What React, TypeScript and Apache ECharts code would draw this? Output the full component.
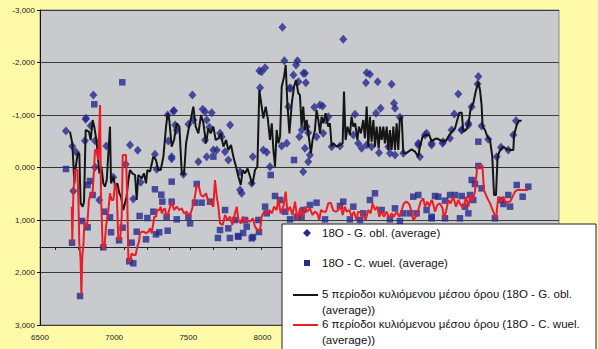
import React, { useEffect, useRef } from "react";
import * as echarts from "echarts";

// 18O - G. obl. (average)  [age, value]
const gObl: [number, number][] = [
  [6675,-695],[6860,-1381],[6808,-918],[6842,-797],[6803,-511],[6718,-403],[6741,-302],[6871,-511],[6947,-409],[7107,-429],
  [7159,-327],[6871,-4],[6900,619],[6994,187],[7078,-61],[7129,600],[6725,448],[7179,282],[7275,-251],[7287,35],
  [7361,-1000],[7399,-1076],[7365,-505],[7388,-168],[6810,-937],
  [8135,-2670],[8148,-2035],[7979,-1845],[7995,-1826],[8018,-1902],[8236,-2035],[8227,-1953],[8209,-1762],[8243,-1635],[8276,-1794],
  [8191,-1508],[7984,-1521],[7528,-1381],[7404,-1083],[7597,-1108],[7613,-1064],[7658,-1045],[7534,-905],[7501,-822],[7624,-905],
  [7782,-810],[7642,-765],[7714,-651],[7725,-588],[7613,-524],[7411,-810],[7422,-714],[8006,-334],[8029,-289],[7669,-334],
  [7692,-334],[7748,-302],[7770,-143],[7388,-207],[7568,-111],[7624,-207],[7935,-207],[8051,-16],[8130,-410],[8164,-461],
  [8249,-588],[8265,-715],[8175,-1159],[8182,-1508],[7849,79],[7467,130],[7928,302],[7849,429],[7860,492],
  [8545,-2442],[8703,-1807],[8725,-1775],[8698,-1616],[8777,-1635],[8871,-1585],[8287,-1794],[8293,-1616],[8350,-1146],[8388,-1191],
  [8406,-1172],[8444,-968],[8624,-1013],[8797,-1127],[8887,-1223],[8894,-1127],[8766,-1032],[8927,-956],[8298,-778],[8309,-664],
  [8365,-588],[8410,-651],[8428,-905],[8287,-365],[8320,-238],[8309,-111],[8275,79],[8467,-397],[8523,-410],[8613,-619],
  [8646,-461],[8669,-365],[8703,-429],[8736,-397],[8786,-283],[8826,-619],[8860,-270],[8894,-238],[8849,-397],[9107,-651],
  [9051,-429],[9062,-207],
  [9456,-1731],[9451,-1591],[9321,-1400],[9294,-1019],[9411,-1159],[9389,-810],[9344,-715],[9276,-715],[9265,-556],[9215,-461],
  [9141,-429],[9478,-791],[9523,-537],[9580,-206],[9609,-384],[9658,-334],[9692,-619],[9710,-892],[9096,-619],[9141,-461],
  [9219,-492],[9343,-714],[9388,-842],[8950,-270],[9051,-461],
];

// 18O - C. wuel. (average)  [age, value]
const cWuel: [number, number][] = [
  [7055,-1623],[6866,-1204],[6675,29],[6837,257],[6821,333],[6855,524],[6716,1432],[6783,1019],[6821,1139],[6770,2448],
  [6934,842],[6972,949],[6979,1234],[6927,1520],[7033,1387],[7057,1147],[7102,1787],[7129,1825],[7118,1432],[7152,1223],
  [7172,924],[7224,962],[7215,1368],[7264,842],[7275,415],[7318,518],[7325,651],[7282,1273],[7304,1234],[7361,1204],
  [7388,270],[7388,651],[7354,937],
  [8213,-143],[8056,143],[7669,-207],[7557,314],[7590,670],[7647,651],[7748,810],[7545,670],[7501,937],[7422,988],
  [7512,1064],[7714,1191],[7770,1159],[7838,1318],[7928,1349],[7894,1127],[8029,873],[8085,543],[8119,619],[8153,841],
  [8231,937],[8186,988],[8018,746],[7973,1000],[7815,1000],[7883,1000],[8276,810],
  [7700,1343],[7781,1343],[7835,1305],[7870,1248],[7936,1324],[7977,1229],
  [8759,492],[8725,619],[9051,524],[9017,556],[8320,714],[8365,670],[8545,651],[8613,746],[8523,733],[8680,873],
  [8804,810],[8894,778],[8950,873],[8995,873],[9040,873],[9107,810],[8264,937],[8422,988],[8590,988],[8658,1000],
  [8860,988],[8927,1019],[9141,937],
  [9456,-492],[9456,-29],[9478,397],[9411,238],[9433,314],[9164,543],[9186,556],[9265,524],[9299,524],[9344,543],
  [9231,632],[9400,524],[9422,619],[9389,873],[9366,746],[9231,968],[9332,968],[9141,968],[9568,968],[9609,619],
  [9625,695],[9658,524],[9670,746],[9715,333],[9755,556],[9793,365],
];

// 5-period moving average (18O - G. obl.)
const maGObl: [number, number][] = [
  [6702,-683],[6718,-460],[6732,302],[6738,48],[6754,-270],[6765,-270],[6774,683],[6788,746],[6797,651],[6808,-714],
  [6830,-683],[6842,-524],[6855,-905],[6866,-778],[6882,-492],[6900,111],[6914,-16],[6927,302],[6938,365],[6950,238],
  [6972,-778],[6979,302],[6995,175],[7006,365],[7022,302],[7035,492],[7046,556],[7062,810],[7073,683],[7084,556],
  [7096,238],[7107,48],[7123,111],[7141,143],[7152,619],[7163,143],[7186,206],[7201,111],[7215,302],[7224,48],
  [7242,79],[7264,-206],[7282,-143],[7298,48],[7314,48],[7332,-206],[7350,-778],[7361,-1032],[7372,-905],
  [7388,-397],[7404,-524],[7422,-841],[7440,-778],[7456,111],[7471,143],[7485,-461],[7501,-715],[7516,-905],[7534,-1159],
  [7550,-778],[7568,-651],[7586,-1000],[7602,-842],[7620,-461],[7635,-746],[7651,-651],[7669,-778],[7685,-524],[7703,-556],
  [7719,-651],[7737,-397],[7755,-524],[7770,-334],[7788,-429],[7804,-207],[7822,-16],[7838,175],[7854,333],[7867,48],
  [7883,111],[7899,16],[7917,175],[7932,333],[7950,48],[7966,-16],[7979,-1477],[7995,-1159],[8006,-937],[8022,-1159],
  [8036,-937],[8051,-524],[8063,-842],[8074,-334],[8085,-16],[8096,-715],[8108,-461],[8119,-588],[8130,-1540],[8146,-1731],
  [8157,-1953],[8168,-1223],[8182,-651],[8198,-1223],[8213,-1540],[8227,-1667],[8242,-1413],
  [8253,-1381],[8264,-778],[8275,-1159],[8287,-715],[8298,-905],[8314,-556],[8327,-270],[8338,-524],[8354,-715],[8365,-1096],
  [8377,-905],[8388,-651],[8399,-968],[8410,-842],[8426,-1032],[8444,-778],[8455,-842],[8467,-397],[8478,-461],[8500,-397],
  [8523,-429],[8541,-461],[8550,-1445],[8561,-524],[8574,-778],[8590,-619],[8601,-968],[8613,-778],[8626,-842],[8640,-524],
  [8651,-778],[8664,-651],[8680,-905],[8691,-556],[8703,-1159],[8714,-397],[8725,-968],[8736,-493],[8748,-905],[8759,-397],
  [8770,-778],[8784,-365],[8793,-778],[8804,-524],[8815,-778],[8826,-461],[8838,-778],[8849,-334],[8860,-715],[8871,-334],
  [8883,-778],[8894,-334],[8905,-842],[8916,-334],[8927,-937],[8939,-968],[8950,-270],[8968,-270],[8984,-302],[9006,-346],
  [9029,-302],[9051,-207],[9062,-397],[9080,-588],[9103,-619],[9125,-619],[9141,-493],
  [9152,-524],[9175,-556],[9197,-524],[9220,-492],[9242,-524],[9260,-619],[9276,-683],[9299,-746],[9314,-905],[9328,-1045],
  [9344,-1045],[9355,-683],[9373,-715],[9389,-810],[9404,-1127],[9422,-1223],[9438,-1445],[9456,-1635],[9467,-1477],[9478,-1191],
  [9485,-778],[9501,-715],[9517,-588],[9535,-524],[9550,-207],[9562,524],[9575,524],[9586,-207],[9602,-334],[9625,-397],
  [9647,-346],[9670,-334],[9692,-334],[9697,-619],[9715,-810],[9730,-892],[9748,-892],
];

// 6-period moving average (18O - C. wuel.)
const maCWuel: [number, number][] = [
  [6714,746],[6718,1432],[6725,492],[6736,48],[6752,48],[6759,619],[6765,1445],[6774,1762],[6779,2429],[6785,1699],
  [6792,1508],[6799,1064],[6808,1064],[6815,1127],[6821,1000],[6830,619],[6842,492],[6853,556],[6864,48],[6871,-334],
  [6882,-334],[6893,-143],[6905,-1191],[6911,492],[6923,1540],[6934,1540],[6945,1127],[6961,810],[6972,492],[6983,619],
  [6995,619],[7006,302],[7017,429],[7028,1381],[7040,1381],[7051,937],[7058,-238],[7080,-238],[7089,683],[7096,1762],
  [7107,1794],[7118,1635],[7129,1667],[7145,1667],[7156,1508],[7168,1413],[7174,1254],[7186,1222],[7201,1222],[7215,1254],
  [7231,1222],[7242,1159],[7253,1254],[7264,1064],[7271,937],[7282,937],[7291,810],[7305,810],[7314,746],[7321,873],
  [7332,810],[7343,778],[7354,937],[7365,873],
  [7377,746],[7388,651],[7404,810],[7422,746],[7440,810],[7456,778],[7471,873],[7489,841],[7505,937],[7523,810],
  [7539,651],[7557,333],[7572,365],[7584,524],[7602,556],[7620,492],[7635,651],[7651,683],[7669,746],[7680,238],
  [7692,556],[7703,746],[7714,1064],[7732,1095],[7748,905],[7764,1000],[7782,937],[7797,1095],[7815,873],[7827,746],
  [7838,1000],[7854,1064],[7867,937],[7883,1032],[7899,1000],[7917,1032],[7935,968],[7950,1127],[7966,1191],[7984,1191],
  [7995,937],[8011,841],[8029,873],[8047,810],[8063,873],[8079,746],[8096,810],[8108,588],[8123,873],[8141,746],
  [8157,460],[8168,841],[8186,746],[8202,905],[8220,651],[8236,1000],[8254,778],[8272,937],
  [8287,746],[8302,841],[8320,778],[8338,905],[8354,841],[8370,873],[8383,1000],[8395,810],[8410,841],[8428,841],
  [8444,683],[8460,670],[8478,822],[8496,841],[8512,810],[8527,715],[8541,905],[8556,746],[8568,841],[8586,810],
  [8601,937],[8617,841],[8635,1000],[8646,841],[8662,860],[8680,905],[8696,1000],[8714,810],[8730,873],[8743,683],
  [8759,810],[8775,746],[8788,937],[8804,841],[8819,937],[8838,841],[8855,968],[8871,873],[8887,937],[8905,841],
  [8923,937],[8939,810],[8954,683],[8972,651],[8990,695],[9006,841],[9017,1000],[9035,937],[9051,810],[9067,651],
  [9085,588],[9096,746],[9112,651],[9125,746],[9141,619],
  [9148,651],[9164,841],[9179,714],[9197,683],[9215,778],[9224,968],[9238,841],[9254,619],[9269,683],[9287,556],
  [9305,746],[9321,619],[9337,714],[9355,778],[9373,556],[9389,746],[9404,524],[9418,619],[9433,460],[9449,-29],
  [9467,-16],[9483,-48],[9494,429],[9512,556],[9535,683],[9557,841],[9575,968],[9591,556],[9609,651],[9625,556],
  [9642,683],[9658,651],[9670,651],[9687,556],[9703,460],[9719,429],[9737,429],[9793,429],
];

// Tick marks on the category-crossing line (value 1,500)
const crossTicks = [6600, 6757, 6914, 7065, 7220, 7370, 7515, 7670, 7825, 7990];
const xLabelMax = 8000;

const seriesNames = [
  "18O - G. obl. (average)",
  "18O - C. wuel. (average)",
  "5 περίοδοι κυλιόμενου μέσου όρου (18O - G. obl. (average))",
  "6 περίοδοι κυλιόμενου μέσου όρου (18O - C. wuel. (average))",
];

const BLUE = "#262B8C";
const FONT = '"Liberation Sans", Arial, sans-serif';

function fmtY(v: number): string {
  const a = Math.abs(v);
  return (v < 0 ? "-" : "") + Math.floor(a / 1000) + "," + String(a % 1000).padStart(3, "0");
}

export default function App() {
  const ref = useRef<HTMLDivElement>(null);
  useEffect(() => {
    if (!ref.current) return;
    const chart = echarts.init(ref.current, null, { renderer: "svg" });
    const lx = 282, ly = 224;
    const Z = 100;
    const txt = (x: number, y: number, text: string) => ({
      type: "text", x, y, z: Z + 1,
      style: { text, font: `11.5px ${FONT}`, fill: "#111", verticalAlign: "middle" },
    });
    chart.setOption({
      animation: false,
      backgroundColor: "#FFFAA8",
      grid: {
        left: 40, right: 39, top: 10, bottom: 24,
        show: true, backgroundColor: "#C9CACD", borderColor: "#8A8A8A", borderWidth: 1,
      },
      xAxis: [
        {
          type: "value", min: 6500, max: 10000, interval: 500,
          axisLine: { show: true, lineStyle: { color: "#333", width: 1 } },
          axisTick: { show: false },
          splitLine: { show: false },
          axisLabel: {
            color: "#222", fontSize: 8, fontFamily: FONT, margin: 8,
            formatter: (v: number) => (v <= xLabelMax ? String(v) : ""),
          },
        },
        {
          type: "value", min: 6500, max: 10000, position: "bottom", offset: -78,
          axisLine: { show: true, lineStyle: { color: "#222", width: 1 } },
          axisTick: { show: true, customValues: crossTicks, length: 3, lineStyle: { color: "#222" } },
          axisLabel: { show: false },
          splitLine: { show: false },
        },
      ],
      yAxis: {
        type: "value", min: -3000, max: 3000, interval: 1000, inverse: true,
        axisLine: { show: true, lineStyle: { color: "#111", width: 1 } },
        axisTick: { show: true, length: 3, lineStyle: { color: "#111" } },
        axisLabel: { color: "#222", fontSize: 8, fontFamily: FONT, margin: 5, formatter: fmtY },
        splitLine: { show: true, lineStyle: { color: "#3C3C3C", width: 1 } },
      },
      series: [
        {
          name: seriesNames[0], type: "scatter", data: gObl, symbol: "diamond", symbolSize: [8, 9],
          itemStyle: { color: BLUE }, z: 2,
        },
        {
          name: seriesNames[1], type: "scatter", data: cWuel, symbol: "rect", symbolSize: 6.5,
          itemStyle: { color: BLUE }, z: 2,
        },
        {
          name: seriesNames[2], type: "line", data: maGObl, showSymbol: false, symbol: "none",
          lineStyle: { color: "#151515", width: 2 }, z: 3,
        },
        {
          name: seriesNames[3], type: "line", data: maCWuel, showSymbol: false, symbol: "none",
          lineStyle: { color: "#EE1C25", width: 2 }, z: 4,
        },
      ],
      graphic: [
        { type: "rect", z: Z, shape: { x: lx, y: ly, width: 314, height: 130 }, style: { fill: "#fff", stroke: "#222", lineWidth: 1 } },
        { type: "polygon", z: Z + 1, shape: { points: [[307, 229], [311, 233], [307, 237], [303, 233]] }, style: { fill: BLUE } },
        txt(322, 233, seriesNames[0]),
        { type: "rect", z: Z + 1, shape: { x: 304, y: 260, width: 6, height: 6 }, style: { fill: BLUE } },
        txt(322, 263, seriesNames[1]),
        { type: "line", z: Z + 1, shape: { x1: 293, y1: 295, x2: 318, y2: 295 }, style: { stroke: "#151515", lineWidth: 2 } },
        txt(322, 294, "5 περίοδοι κυλιόμενου μέσου όρου (18O - G. obl."),
        txt(322, 310, "(average))"),
        { type: "line", z: Z + 1, shape: { x1: 293, y1: 325, x2: 318, y2: 325 }, style: { stroke: "#EE1C25", lineWidth: 2 } },
        txt(322, 324, "6 περίοδοι κυλιόμενου μέσου όρου (18O - C. wuel."),
        txt(322, 340, "(average))"),
      ],
    });
    return () => chart.dispose();
  }, []);
  return <div ref={ref} style={{ position: "fixed", left: 0, top: 0, width: 598, height: 349 }} />;
}
